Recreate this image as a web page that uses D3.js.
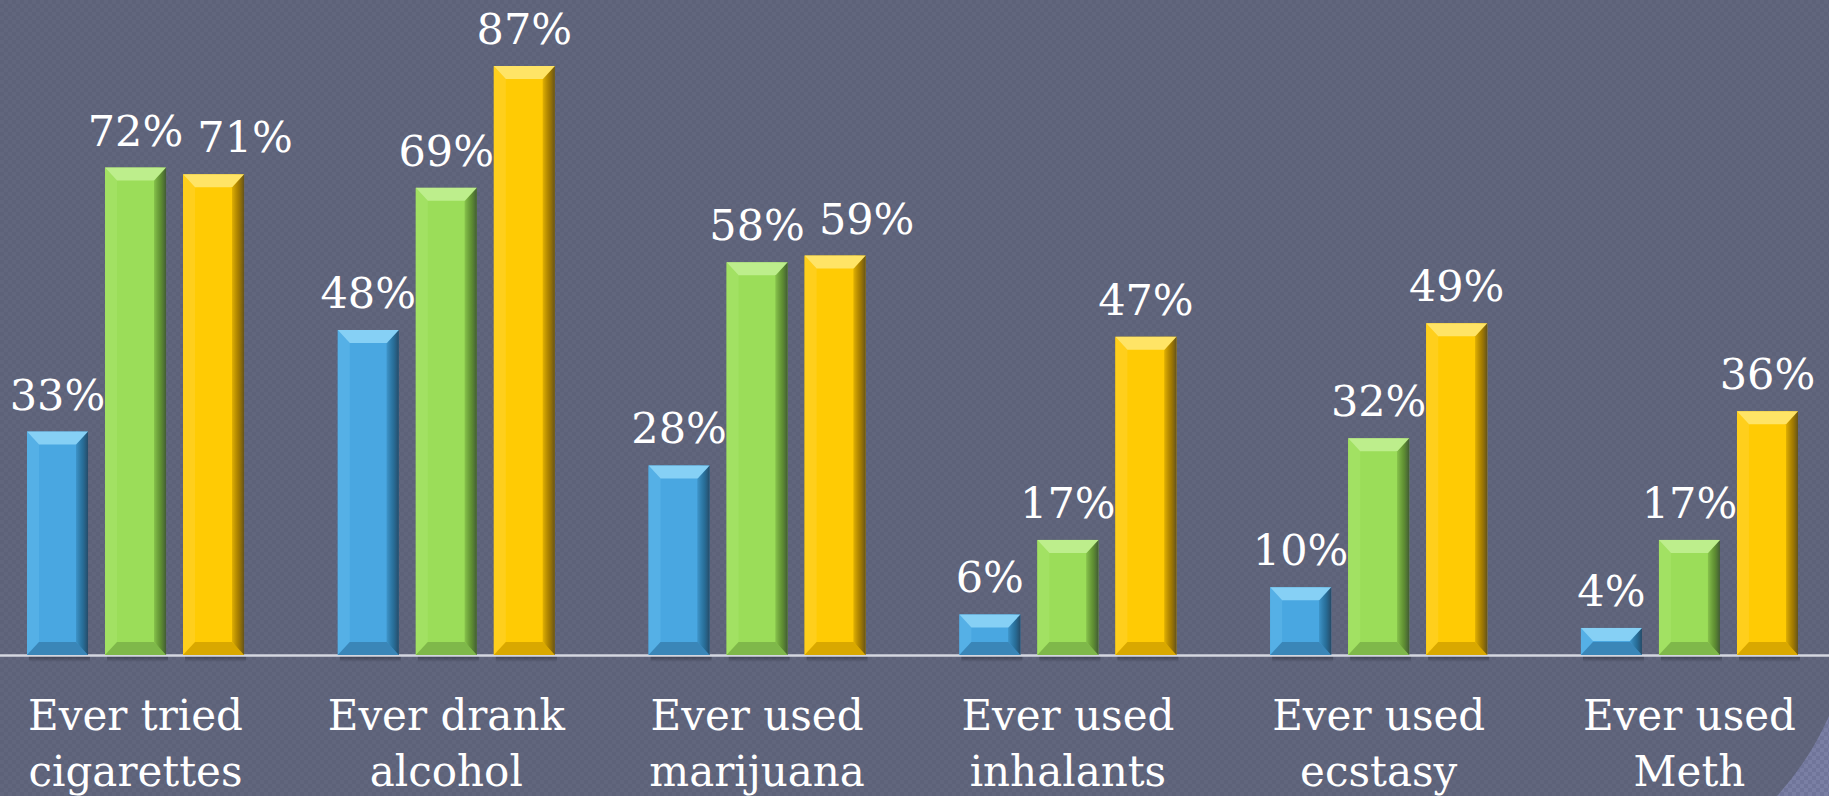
<!DOCTYPE html>
<html>
<head>
<meta charset="utf-8">
<script src="https://cdn.jsdelivr.net/npm/d3@7"></script>
<style>
	html, body { margin: 0; padding: 0; background: #5d6279; overflow: hidden; }
	svg { display: block; }
	.val { font-family: "DejaVu Serif", serif; font-size: 43px; fill: #ffffff; }
	.cat { font-family: "DejaVu Serif", serif; font-size: 42px; fill: #ffffff; }
</style>
</head>
<body>
<svg id="mainsvg" width="1829" height="796"></svg>
<script>
// chart data
var categories = ["cigarettes", "alcohol", "marijuana", "inhalants", "ecstasy", "Meth"];
var catLine1 = ["Ever tried", "Ever drank", "Ever used", "Ever used", "Ever used", "Ever used"];
var catLine2 = ["cigarettes", "alcohol", "marijuana", "inhalants", "ecstasy", "Meth"];
var seriesA = [33, 48, 28, 6, 10, 4];
var seriesB = [72, 69, 58, 17, 32, 17];
var seriesC = [71, 87, 59, 47, 49, 36];

var W = 1829, H = 796;
var baseY = 655;

// base, top bevel, side light, side dark, bottom bevel
var palette = [
	{ base: "#49a7e1", top: "#86d0f5", left: "#55b0e6", right: "#1f5f86", bottom: "#3a86b8" },
	{ base: "#9bdd59", top: "#bdee8c", left: "#a2e163", right: "#4f7a28", bottom: "#7fb84a" },
	{ base: "#ffcb04", top: "#ffe466", left: "#ffcf1c", right: "#8a6600", bottom: "#d9a800" }
];

var svg = d3.select("#mainsvg");
var defs = svg.append("defs");

// checker texture of the slide background
var pat = defs.append("pattern")
	.attr("id", "checker")
	.attr("width", 8).attr("height", 8)
	.attr("patternUnits", "userSpaceOnUse");
pat.append("rect").attr("width", 8).attr("height", 8).attr("fill", "#5d6279");
pat.append("rect").attr("width", 4).attr("height", 4).attr("fill", "#61667d");
pat.append("rect").attr("x", 4).attr("y", 4).attr("width", 4).attr("height", 4).attr("fill", "#61667d");

var pat2 = defs.append("pattern")
	.attr("id", "checker2")
	.attr("width", 8).attr("height", 8)
	.attr("patternUnits", "userSpaceOnUse");
pat2.append("rect").attr("width", 8).attr("height", 8).attr("fill", "#70759a");
pat2.append("rect").attr("width", 4).attr("height", 4).attr("fill", "#7a7fa4");
pat2.append("rect").attr("x", 4).attr("y", 4).attr("width", 4).attr("height", 4).attr("fill", "#7a7fa4");

var shadowGrad = defs.append("linearGradient")
	.attr("id", "shadow").attr("x1", 0).attr("y1", 0).attr("x2", 0).attr("y2", 1);
shadowGrad.append("stop").attr("offset", 0).attr("stop-color", "#2e3140").attr("stop-opacity", 0.8);
shadowGrad.append("stop").attr("offset", 1).attr("stop-color", "#2e3140").attr("stop-opacity", 0);

// soft right-side shading per series
palette.forEach(function(c, j) {
	var g = defs.append("linearGradient")
		.attr("id", "side" + j).attr("x1", 0).attr("y1", 0).attr("x2", 1).attr("y2", 0);
	g.append("stop").attr("offset", 0).attr("stop-color", c.base);
	g.append("stop").attr("offset", 0.55).attr("stop-color", c.right).attr("stop-opacity", 0.85);
	g.append("stop").attr("offset", 1).attr("stop-color", "#1e2230");
});

svg.append("rect").attr("width", W).attr("height", H).attr("fill", "url(#checker)");

// lighter corner of the slide theme
svg.append("path")
	.attr("d", "M" + W + ",716 A300,300 0 0,1 1777," + H + " L" + W + "," + H + " Z")
	.attr("fill", "url(#checker2)");

// scales
var y = d3.scaleLinear().domain([0, 100]).range([baseY, baseY - 677]);
var x0 = d3.scaleBand()
	.domain(categories)
	.range([27, 1798])
	.paddingInner(0.3016)
	.paddingOuter(0);
var x1 = d3.scaleBand()
	.domain([0, 1, 2])
	.range([0, x0.bandwidth()])
	.paddingInner(0.218);

var rows = [];
categories.forEach(function(c, i) {
	[seriesA, seriesB, seriesC].forEach(function(s, j) {
		rows.push({ cat: c, idx: i, series: j, value: s[i] });
	});
});

// shadows under the bars
svg.append("g").selectAll("rect")
	.data(rows)
	.enter().append("rect")
	.attr("x", function(d) { return x0(d.cat) + x1(d.series) + 2; })
	.attr("y", baseY)
	.attr("width", x1.bandwidth())
	.attr("height", 7)
	.attr("fill", "url(#shadow)");

// axis line
svg.append("line")
	.attr("x1", 0).attr("x2", W)
	.attr("y1", baseY + 0.5).attr("y2", baseY + 0.5)
	.attr("stroke", "#d4d7e0")
	.attr("stroke-width", 2.5);

// bevelled bars
var bar = svg.append("g").selectAll("g")
	.data(rows)
	.enter().append("g")
	.attr("transform", function(d) { return "translate(" + (x0(d.cat) + x1(d.series)) + "," + y(d.value) + ")"; });

bar.each(function(d) {
	var g = d3.select(this);
	var w = x1.bandwidth();
	var h = baseY - y(d.value);
	var c = palette[d.series];
	var bv = Math.min(13, h / 2);
	var bs = Math.min(12, w / 2);
	g.append("rect").attr("width", w).attr("height", h).attr("fill", c.base);
	// left
	g.append("polygon")
		.attr("points", [[0, 0], [bs, bv], [bs, h - bv], [0, h]].join(" "))
		.attr("fill", c.left);
	// right
	g.append("polygon")
		.attr("points", [[w, 0], [w, h], [w - bs, h - bv], [w - bs, bv]].join(" "))
		.attr("fill", c.right)
		.attr("opacity", 0.6);
	g.append("rect").attr("x", w - bs).attr("width", bs).attr("height", h)
		.attr("fill", "url(#side" + d.series + ")")
		.attr("opacity", 0.55);
	// top
	g.append("polygon")
		.attr("points", [[0, 0], [w, 0], [w - bs, bv], [bs, bv]].join(" "))
		.attr("fill", c.top);
	// bottom
	g.append("polygon")
		.attr("points", [[0, h], [bs, h - bv], [w - bs, h - bv], [w, h]].join(" "))
		.attr("fill", c.bottom);
});

// value labels, nudged right when they collide with the previous one
var labels = svg.append("g").selectAll("text")
	.data(rows)
	.enter().append("text")
	.attr("class", "val")
	.attr("text-anchor", "middle")
	.attr("x", function(d) { return x0(d.cat) + x1(d.series) + x1.bandwidth() / 2; })
	.attr("y", function(d) { return y(d.value) - 22; })
	.text(function(d) { return d.value + "%"; });

var prev = null;
labels.each(function(d) {
	var t = d3.select(this);
	var b = this.getBBox();
	if (prev && d.series > 0 && b.x < prev.x + prev.width + 14 &&
		b.y < prev.y + prev.height && b.y + b.height > prev.y) {
		var shift = prev.x + prev.width + 14 - b.x;
		t.attr("x", +t.attr("x") + shift);
		b = this.getBBox();
	}
	prev = b;
});

// category labels
var cat = svg.append("g").selectAll("text")
	.data(categories)
	.enter().append("text")
	.attr("class", "cat")
	.attr("text-anchor", "middle")
	.attr("x", function(d) { return x0(d) + x0.bandwidth() / 2; })
	.attr("y", 730);
cat.append("tspan")
	.attr("x", function(d) { return x0(d) + x0.bandwidth() / 2; })
	.text(function(d, i) { return catLine1[i]; });
cat.append("tspan")
	.attr("x", function(d) { return x0(d) + x0.bandwidth() / 2; })
	.attr("dy", 56)
	.text(function(d, i) { return catLine2[i]; });
</script>
</body>
</html>
